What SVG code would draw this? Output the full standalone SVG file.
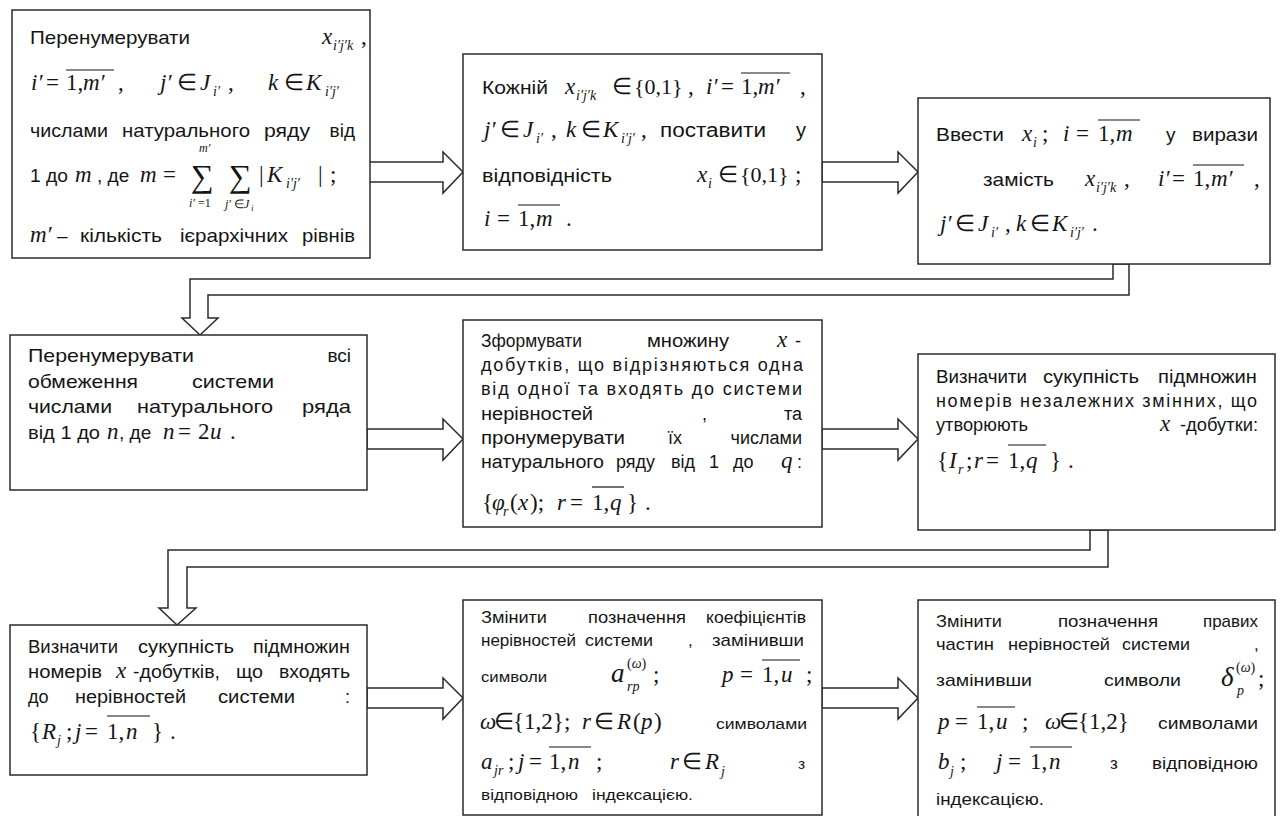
<svg xmlns="http://www.w3.org/2000/svg" width="1281" height="816" viewBox="0 0 1281 816">
<style>
.box{fill:#fff;stroke:#2b2b2b;stroke-width:1.5}
.arr{fill:#fff;stroke:#2b2b2b;stroke-width:1.5;stroke-linejoin:miter}
text{fill:#151515}
.t{font-family:"Liberation Sans",Arial,sans-serif;font-size:19px}
.t2{font-family:"Liberation Sans",Arial,sans-serif;font-size:18px}
.t3{font-family:"Liberation Sans",Arial,sans-serif;font-size:17px}
.t4{font-family:"Liberation Sans",Arial,sans-serif;font-size:15.5px}
.m{font-family:"Liberation Serif","Times New Roman",serif;font-size:23px}
.i{font-style:italic}
.sb{font-size:14px}
.lim{font-size:12px}
.tiny{font-size:9px}
.big{font-size:32px}
.lg{font-size:27px}
.ov{stroke:#151515;stroke-width:1.2}
</style>
<rect width="1281" height="816" fill="#fff"/>

<!-- block arrows between the steps -->
<g id="connectors">
<polygon class="arr" points="367,162 443,162 443,152 463,172 443,193 443,182 367,182"/>
<polygon class="arr" points="822,162 898,162 898,152 918,172 898,193 898,182 822,182"/>
<polygon class="arr" points="1113,264 1113,279 190,279 190,318 182,318 200,335 218,318 208,318 208,295 1129,295 1129,264"/>
<polygon class="arr" points="367,429 443,429 443,419 463,439 443,460 443,449 367,449"/>
<polygon class="arr" points="822,429 898,429 898,419 918,439 898,460 898,449 822,449"/>
<polygon class="arr" points="1090,530 1090,550 168,550 168,608 159,608 177,625 196,608 187,608 187,567 1108,567 1108,530"/>
<polygon class="arr" points="367,688 443,688 443,678 463,698 443,719 443,708 367,708"/>
<polygon class="arr" points="822,688 898,688 898,678 918,698 898,719 898,708 822,708"/>
</g>

<!-- step 1 -->
<g id="n1">
<rect class="box" x="12" y="10" width="358" height="248"/>
<text class="t" x="30" y="44" textLength="160" lengthAdjust="spacingAndGlyphs">Перенумерувати</text>
<text class="m i" x="322" y="44">x</text><text class="m i sb" x="333" y="50">i′j′k</text><text class="m" x="361" y="44">,</text>
<text class="m i" x="31" y="90">i′</text><text class="m" x="46" y="90">=</text><text class="m" x="66" y="90">1,</text><text class="m i" x="83" y="90">m′</text><text class="m" x="118" y="90">,</text>
<line class="ov" x1="66" y1="70" x2="114" y2="70"/>
<text class="m i" x="160" y="90">j′</text><text class="m" x="177" y="90">∈</text><text class="m i" x="200" y="90">J</text><text class="m i sb" x="213" y="96">i′</text><text class="m" x="228" y="90">,</text>
<text class="m i" x="268" y="90">k</text><text class="m" x="284" y="90">∈</text><text class="m i" x="306" y="90">K</text><text class="m i sb" x="325" y="96">i′j′</text>
<text class="t" x="30" y="137" textLength="78" lengthAdjust="spacingAndGlyphs">числами</text>
<text class="t" x="122" y="137" textLength="128" lengthAdjust="spacingAndGlyphs">натурального</text>
<text class="t" x="264" y="137" textLength="46" lengthAdjust="spacingAndGlyphs">ряду</text>
<text class="t" x="355" y="137" text-anchor="end">від</text>
<text class="t" x="30" y="182" textLength="38" lengthAdjust="spacingAndGlyphs">1 до</text>
<text class="m i" x="75" y="182">m</text>
<text class="t" x="97" y="182">, де</text>
<text class="m i" x="140" y="182">m</text><text class="m" x="163" y="182">=</text>
<text class="m big" x="191" y="187">∑</text><text class="m i lim" x="199" y="152">m′</text><text class="m i lim" x="189" y="207">i′</text><text class="m lim" x="198" y="207">=1</text>
<text class="m big" x="229" y="187">∑</text><text class="m i lim" x="225" y="208">j′</text><text class="m lim" x="234" y="208">∈</text><text class="m i lim" x="244" y="208">J</text><text class="m i tiny" x="251" y="211">i</text>
<text class="m" x="259" y="182">|</text><text class="m i" x="267" y="182">K</text><text class="m i sb" x="286" y="188">i′j′</text><text class="m" x="318" y="182">|</text><text class="m" x="330" y="182">;</text>
<text class="m i" x="30" y="242">m′</text>
<text class="t" x="57" y="242">–</text>
<text class="t" x="80" y="242" textLength="82" lengthAdjust="spacingAndGlyphs">кількість</text>
<text class="t" x="180" y="242" textLength="108" lengthAdjust="spacingAndGlyphs">ієрархічних</text>
<text class="t" x="302" y="242" textLength="53" lengthAdjust="spacingAndGlyphs">рівнів</text>
</g>

<!-- step 2 -->
<g id="n2">
<rect class="box" x="463" y="54" width="359" height="196"/>
<text class="t" x="482" y="94" textLength="66" lengthAdjust="spacingAndGlyphs">Кожній</text>
<text class="m i" x="565" y="94">x</text><text class="m i sb" x="576" y="100">i′j′k</text>
<text class="m" x="612" y="94">∈</text><text class="m" x="634" y="94" style="font-size:22px">{0,1}</text><text class="m" x="688" y="94">,</text>
<text class="m i" x="706" y="94">i′</text><text class="m" x="721" y="94">=</text><text class="m" x="741" y="94">1,</text><text class="m i" x="758" y="94">m′</text><text class="m" x="800" y="94">,</text>
<line class="ov" x1="741" y1="73" x2="790" y2="73"/>
<text class="m i" x="484" y="137">j′</text><text class="m" x="500" y="137">∈</text><text class="m i" x="523" y="137">J</text><text class="m i sb" x="536" y="143">i′</text><text class="m" x="551" y="137">,</text>
<text class="m i" x="566" y="137">k</text><text class="m" x="581" y="137">∈</text><text class="m i" x="603" y="137">K</text><text class="m i sb" x="621" y="143">i′j′</text><text class="m" x="641" y="137">,</text>
<text class="t" x="660" y="137" style="font-size:20px" textLength="106" lengthAdjust="spacingAndGlyphs">поставити</text>
<text class="t" x="806" y="137" style="font-size:20px" text-anchor="end">у</text>
<text class="t" x="482" y="182" textLength="130" lengthAdjust="spacingAndGlyphs">відповідність</text>
<text class="m i" x="697" y="182">x</text><text class="m i sb" x="708" y="188">i</text><text class="m" x="718" y="182">∈</text><text class="m" x="740" y="182" style="font-size:22px">{0,1}</text><text class="m" x="795" y="182">;</text>
<text class="m i" x="484" y="226">i</text><text class="m" x="497" y="226">=</text><text class="m" x="518" y="226">1,</text><text class="m i" x="536" y="226">m</text><text class="m" x="566" y="226">.</text>
<line class="ov" x1="518" y1="205" x2="560" y2="205"/>
</g>

<!-- step 3 -->
<g id="n3">
<rect class="box" x="918" y="98" width="352" height="166"/>
<text class="t" x="936" y="141" textLength="68" lengthAdjust="spacingAndGlyphs">Ввести</text>
<text class="m i" x="1022" y="141">x</text><text class="m i sb" x="1033" y="147">i</text><text class="m" x="1042" y="141">;</text>
<text class="m i" x="1063" y="141">i</text><text class="m" x="1076" y="141">=</text><text class="m" x="1098" y="141">1,</text><text class="m i" x="1116" y="141">m</text>
<line class="ov" x1="1098" y1="120" x2="1140" y2="120"/>
<text class="t" x="1166" y="141">у</text>
<text class="t" x="1192" y="141" textLength="66" lengthAdjust="spacingAndGlyphs">вирази</text>
<text class="t" x="983" y="186" textLength="71" lengthAdjust="spacingAndGlyphs">замість</text>
<text class="m i" x="1085" y="186">x</text><text class="m i sb" x="1096" y="192">i′j′k</text><text class="m" x="1124" y="186">,</text>
<text class="m i" x="1158" y="186">i′</text><text class="m" x="1172" y="186">=</text><text class="m" x="1193" y="186">1,</text><text class="m i" x="1211" y="186">m′</text><text class="m" x="1254" y="186">,</text>
<line class="ov" x1="1193" y1="165" x2="1244" y2="165"/>
<text class="m i" x="940" y="231">j′</text><text class="m" x="955" y="231">∈</text><text class="m i" x="978" y="231">J</text><text class="m i sb" x="991" y="237">i′</text><text class="m" x="1005" y="231">,</text>
<text class="m i" x="1016" y="231">k</text><text class="m" x="1030" y="231">∈</text><text class="m i" x="1052" y="231">K</text><text class="m i sb" x="1070" y="237">i′j′</text><text class="m" x="1092" y="231">.</text>
</g>

<!-- step 4 -->
<g id="n4">
<rect class="box" x="10" y="335" width="357" height="155"/>
<text class="t" x="28" y="362" textLength="166" lengthAdjust="spacingAndGlyphs">Перенумерувати</text>
<text class="t" x="351" y="362" text-anchor="end">всі</text>
<text class="t" x="28" y="388" textLength="110" lengthAdjust="spacingAndGlyphs">обмеження</text>
<text class="t" x="192" y="388" textLength="82" lengthAdjust="spacingAndGlyphs">системи</text>
<text class="t" x="28" y="413" textLength="84" lengthAdjust="spacingAndGlyphs">числами</text>
<text class="t" x="137" y="413" textLength="136" lengthAdjust="spacingAndGlyphs">натурального</text>
<text class="t" x="302" y="413" textLength="49" lengthAdjust="spacingAndGlyphs">ряда</text>
<text class="t" x="28" y="439" textLength="72" lengthAdjust="spacingAndGlyphs">від 1 до</text>
<text class="m i" x="107" y="439">n</text>
<text class="t" x="119" y="439">, де</text>
<text class="m i" x="163" y="439">n</text><text class="m" x="178" y="439">=</text><text class="m" x="198" y="439">2</text><text class="m i" x="210" y="439">u</text><text class="m" x="230" y="439">.</text>
</g>

<!-- step 5 -->
<g id="n5">
<rect class="box" x="463" y="320" width="359" height="207"/>
<text class="t2" x="481" y="347" textLength="101" lengthAdjust="spacingAndGlyphs">Зформувати</text>
<text class="t2" x="647" y="347" textLength="82" lengthAdjust="spacingAndGlyphs">множину</text>
<text class="m i" x="777" y="347">x</text><text class="t2" x="795" y="347">-</text>
<text class="t2" x="481" y="371" textLength="322">добутків, що відрізняються одна</text>
<text class="t2" x="481" y="395" textLength="321">від одної та входять до системи</text>
<text class="t2" x="481" y="420" textLength="112" lengthAdjust="spacingAndGlyphs">нерівностей</text>
<text class="t2" x="702" y="420">,</text>
<text class="t2" x="802" y="420" text-anchor="end">та</text>
<text class="t2" x="481" y="444" textLength="144" lengthAdjust="spacingAndGlyphs">пронумерувати</text>
<text class="t2" x="668" y="444">їх</text>
<text class="t2" x="802" y="444" text-anchor="end">числами</text>
<text class="t2" x="481" y="468" textLength="123" lengthAdjust="spacingAndGlyphs">натурального</text>
<text class="t2" x="616" y="468">ряду</text>
<text class="t2" x="671" y="468">від</text>
<text class="t2" x="709" y="468">1</text>
<text class="t2" x="733" y="468">до</text>
<text class="m i" x="781" y="468">q</text><text class="t2" x="797" y="468">:</text>
<text class="m" x="482" y="510">{</text><text class="m i" x="492" y="510">φ</text><text class="m i sb" x="503" y="516">r</text>
<text class="m" x="510" y="510">(</text><text class="m i" x="518" y="510">x</text><text class="m" x="530" y="510">);</text>
<text class="m i" x="557" y="510">r</text><text class="m" x="570" y="510">=</text><text class="m" x="592" y="510">1,</text><text class="m i" x="610" y="510">q</text><text class="m" x="627" y="510">}</text><text class="m" x="645" y="510">.</text>
<line class="ov" x1="592" y1="487" x2="624" y2="487"/>
</g>

<!-- step 6 -->
<g id="n6">
<rect class="box" x="918" y="354" width="357" height="176"/>
<text class="t2" x="936" y="383" textLength="91" lengthAdjust="spacingAndGlyphs">Визначити</text>
<text class="t2" x="1043" y="383" textLength="96" lengthAdjust="spacingAndGlyphs">сукупність</text>
<text class="t2" x="1158" y="383" textLength="99" lengthAdjust="spacingAndGlyphs">підмножин</text>
<text class="t2" x="936" y="407" textLength="321">номерів незалежних змінних, що</text>
<text class="t2" x="936" y="431" textLength="92" lengthAdjust="spacingAndGlyphs">утворюють</text>
<text class="m i" x="1160" y="431">x</text>
<text class="t2" x="1180" y="431" textLength="78" lengthAdjust="spacingAndGlyphs">-добутки:</text>
<text class="m" x="937" y="468">{</text><text class="m i" x="949" y="468">I</text><text class="m i sb" x="958" y="474">r</text><text class="m" x="966" y="468">;</text>
<text class="m i" x="974" y="468">r</text><text class="m" x="986" y="468">=</text><text class="m" x="1008" y="468">1,</text><text class="m i" x="1026" y="468">q</text><text class="m" x="1050" y="468">}</text><text class="m" x="1068" y="468">.</text>
<line class="ov" x1="1008" y1="445" x2="1046" y2="445"/>
</g>

<!-- step 7 -->
<g id="n7">
<rect class="box" x="10" y="625" width="357" height="150"/>
<text class="t2" x="28" y="653" textLength="90" lengthAdjust="spacingAndGlyphs">Визначити</text>
<text class="t2" x="138" y="653" textLength="96" lengthAdjust="spacingAndGlyphs">сукупність</text>
<text class="t2" x="253" y="653" textLength="97" lengthAdjust="spacingAndGlyphs">підмножин</text>
<text class="t2" x="28" y="678" textLength="74" lengthAdjust="spacingAndGlyphs">номерів</text>
<text class="m i" x="116" y="678">x</text>
<text class="t2" x="133" y="678" textLength="87" lengthAdjust="spacingAndGlyphs">-добутків,</text>
<text class="t2" x="236" y="678" textLength="27" lengthAdjust="spacingAndGlyphs">що</text>
<text class="t2" x="279" y="678" textLength="71" lengthAdjust="spacingAndGlyphs">входять</text>
<text class="t2" x="28" y="703">до</text>
<text class="t2" x="75" y="703" textLength="111" lengthAdjust="spacingAndGlyphs">нерівностей</text>
<text class="t2" x="218" y="703" textLength="77" lengthAdjust="spacingAndGlyphs">системи</text>
<text class="t2" x="345" y="703">:</text>
<text class="m" x="30" y="739">{</text><text class="m i" x="42" y="739">R</text><text class="m i sb" x="57" y="745">j</text><text class="m" x="66" y="739">;</text>
<text class="m i" x="75" y="739">j</text><text class="m" x="85" y="739">=</text><text class="m" x="107" y="739">1,</text><text class="m i" x="126" y="739">n</text><text class="m" x="152" y="739">}</text><text class="m" x="170" y="739">.</text>
<line class="ov" x1="107" y1="716" x2="150" y2="716"/>
</g>

<!-- step 8 -->
<g id="n8">
<rect class="box" x="463" y="600" width="359" height="215"/>
<text class="t3" x="481" y="623" textLength="66" lengthAdjust="spacingAndGlyphs">Змінити</text>
<text class="t3" x="588" y="623" textLength="98" lengthAdjust="spacingAndGlyphs">позначення</text>
<text class="t3" x="706" y="623" textLength="100" lengthAdjust="spacingAndGlyphs">коефіцієнтів</text>
<text class="t3" x="481" y="646" textLength="95" lengthAdjust="spacingAndGlyphs">нерівностей</text>
<text class="t3" x="585" y="646" textLength="68" lengthAdjust="spacingAndGlyphs">системи</text>
<text class="t3" x="688" y="646">,</text>
<text class="t3" x="712" y="646" textLength="92" lengthAdjust="spacingAndGlyphs">замінивши</text>
<text class="t4" x="481" y="682" textLength="66" lengthAdjust="spacingAndGlyphs">символи</text>
<text class="m i lg" x="611" y="682">a</text><text class="m sb" x="627" y="668">(<tspan class="i">ω</tspan>)</text><text class="m i sb" x="627" y="691">rp</text><text class="m" x="653" y="682">;</text>
<text class="m i" x="722" y="682">p</text><text class="m" x="740" y="682">=</text><text class="m" x="762" y="682">1,</text><text class="m i" x="781" y="682">u</text><text class="m" x="806" y="682">;</text>
<line class="ov" x1="762" y1="660" x2="800" y2="660"/>
<text class="m i" x="480" y="729">ω</text><text class="m" x="494" y="729">∈</text><text class="m" x="513" y="729">{1,2}</text><text class="m" x="564" y="729">;</text>
<text class="m i" x="582" y="729">r</text><text class="m" x="594" y="729">∈</text><text class="m i" x="617" y="729">R</text><text class="m" x="633" y="729">(</text><text class="m i" x="641" y="729">p</text><text class="m" x="654" y="729">)</text>
<text class="t4" x="716" y="729" textLength="91" lengthAdjust="spacingAndGlyphs">символами</text>
<text class="m i" x="481" y="769">a</text><text class="m i sb" x="494" y="775">jr</text><text class="m" x="508" y="769">;</text>
<text class="m i" x="518" y="769">j</text><text class="m" x="529" y="769">=</text><text class="m" x="549" y="769">1,</text><text class="m i" x="568" y="769">n</text><text class="m" x="596" y="769">;</text>
<line class="ov" x1="549" y1="747" x2="591" y2="747"/>
<text class="m i" x="670" y="769">r</text><text class="m" x="682" y="769">∈</text><text class="m i" x="705" y="769">R</text><text class="m i sb" x="721" y="776">j</text>
<text class="t4" x="798" y="769">з</text>
<text class="t4" x="481" y="800" textLength="97" lengthAdjust="spacingAndGlyphs">відповідною</text>
<text class="t4" x="592" y="800" textLength="101" lengthAdjust="spacingAndGlyphs">індексацією.</text>
</g>

<!-- step 9 -->
<g id="n9">
<rect class="box" x="918" y="600" width="357" height="222"/>
<text class="t3" x="936" y="627" textLength="66" lengthAdjust="spacingAndGlyphs">Змінити</text>
<text class="t3" x="1058" y="627" textLength="100" lengthAdjust="spacingAndGlyphs">позначення</text>
<text class="t3" x="1203" y="627" textLength="55" lengthAdjust="spacingAndGlyphs">правих</text>
<text class="t3" x="936" y="650" textLength="58" lengthAdjust="spacingAndGlyphs">частин</text>
<text class="t3" x="1008" y="650" textLength="102" lengthAdjust="spacingAndGlyphs">нерівностей</text>
<text class="t3" x="1122" y="650" textLength="68" lengthAdjust="spacingAndGlyphs">системи</text>
<text class="t3" x="1254" y="650">,</text>
<text class="t3" x="936" y="686" textLength="96" lengthAdjust="spacingAndGlyphs">замінивши</text>
<text class="t3" x="1104" y="686" textLength="77" lengthAdjust="spacingAndGlyphs">символи</text>
<text class="m i lg" x="1221" y="686">δ</text><text class="m sb" x="1236" y="672">(<tspan class="i">ω</tspan>)</text><text class="m i sb" x="1237" y="695">p</text><text class="m" x="1258" y="686">;</text>
<text class="m i" x="938" y="729">p</text><text class="m" x="955" y="729">=</text><text class="m" x="977" y="729">1,</text><text class="m i" x="996" y="729">u</text><text class="m" x="1022" y="729">;</text>
<line class="ov" x1="977" y1="707" x2="1015" y2="707"/>
<text class="m i" x="1045" y="729">ω</text><text class="m" x="1059" y="729">∈</text><text class="m" x="1078" y="729">{1,2}</text>
<text class="t3" x="1158" y="729" textLength="100" lengthAdjust="spacingAndGlyphs">символами</text>
<text class="m i" x="938" y="769">b</text><text class="m i sb" x="950" y="776">j</text><text class="m" x="960" y="769">;</text>
<text class="m i" x="996" y="769">j</text><text class="m" x="1008" y="769">=</text><text class="m" x="1030" y="769">1,</text><text class="m i" x="1049" y="769">n</text>
<line class="ov" x1="1030" y1="747" x2="1072" y2="747"/>
<text class="t3" x="1110" y="769">з</text>
<text class="t3" x="1152" y="769" textLength="106" lengthAdjust="spacingAndGlyphs">відповідною</text>
<text class="t3" x="936" y="805" textLength="108" lengthAdjust="spacingAndGlyphs">індексацією.</text>
</g>
</svg>
